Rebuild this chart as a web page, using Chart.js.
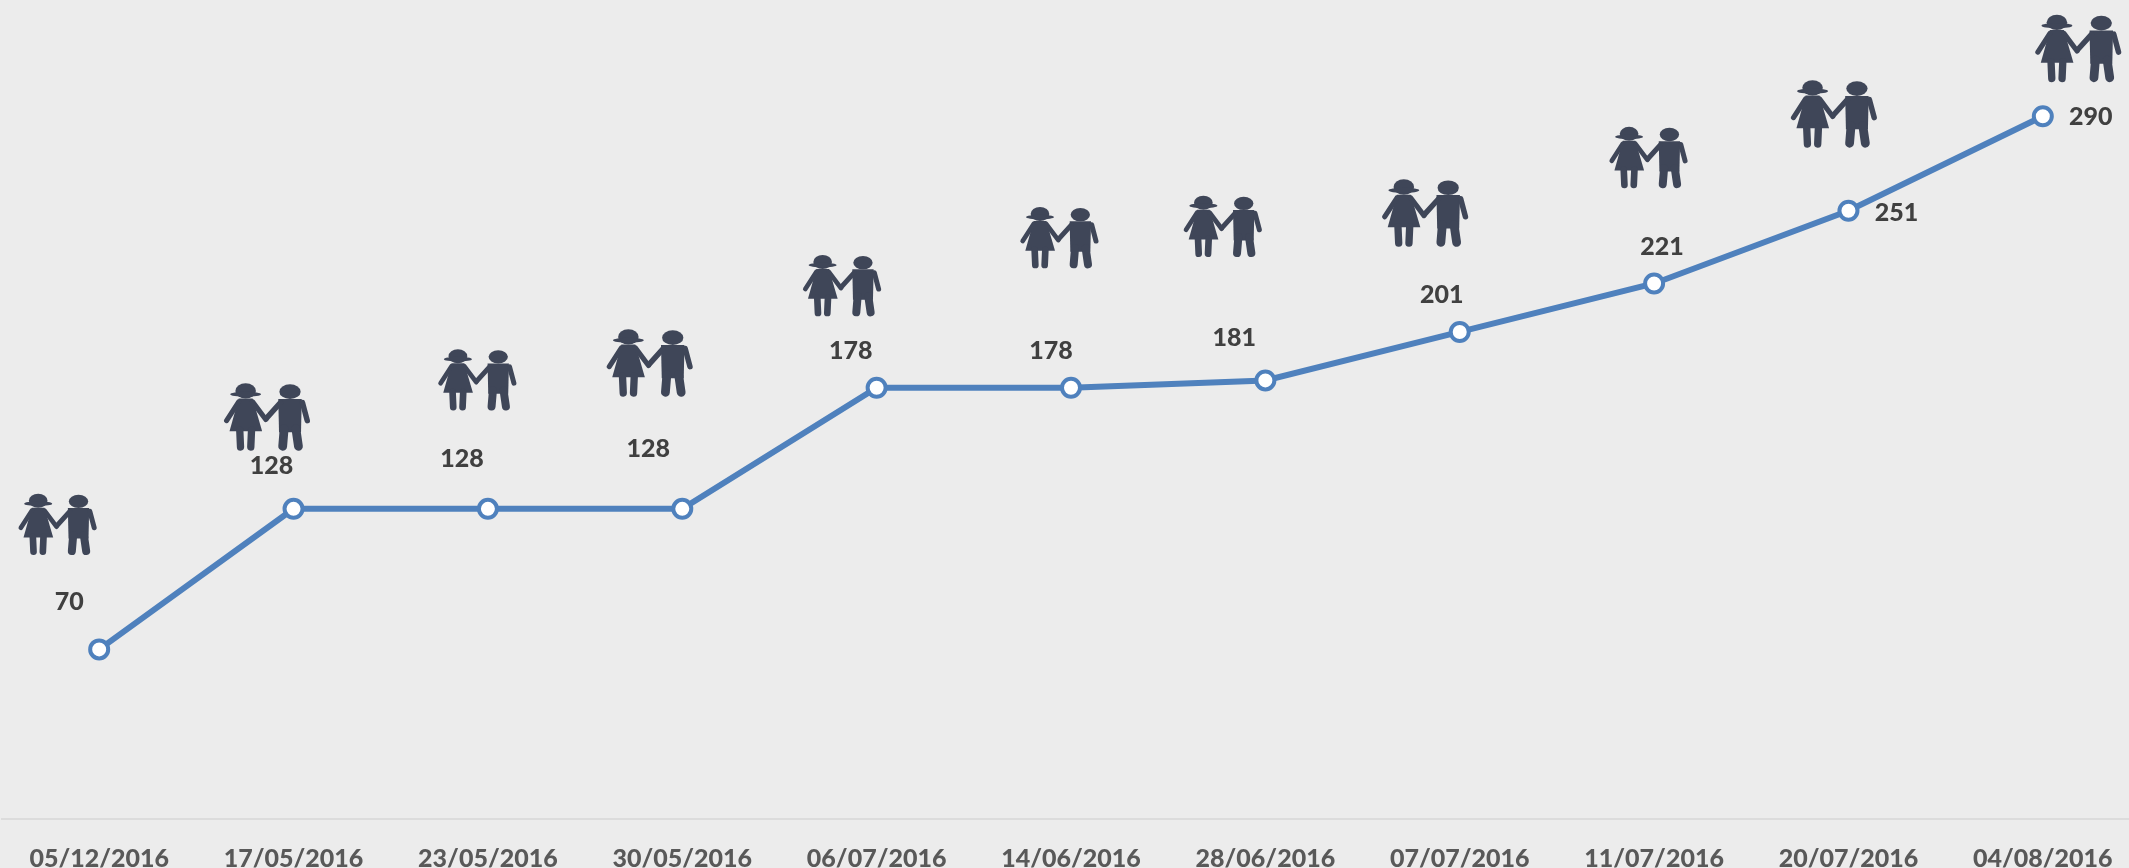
<!DOCTYPE html>
<html>
<head>
<meta charset="utf-8">
<title>Line chart</title>
<script src="https://cdn.jsdelivr.net/npm/chart.js@4/dist/chart.umd.min.js"></script>
<style>
  html, body { margin: 0; padding: 0; width: 2129px; height: 868px; overflow: hidden; background: #ececec; }
  canvas { display: block; }
</style>
</head>
<body>
<canvas id="chart" width="2141" height="868"></canvas>
<script>
// === Data ===
const dates = [
  "05/12/2016", "17/05/2016", "23/05/2016", "30/05/2016", "06/07/2016", "14/06/2016",
  "28/06/2016", "07/07/2016", "11/07/2016", "20/07/2016", "04/08/2016",
];
const values = [70, 128, 128, 128, 178, 178, 181, 201, 221, 251, 290];

// hand placed in the original, so kept as offsets from each point
const labelShift = [
  [-30, -47], [-22, -43], [-26, -50], [-34, -60], [-26, -37], [-20, -37],
  [-31, -42], [-18, -37], [8, -37], [48, 2], [48, 1],
];
const iconShift = [
  [-42, -156, 1], [-27, -126, 1.1], [-11, -160, 1], [-33, -180, 1.1], [-35, -133, 1], [-12, -181, 1],
  [-43, -185, 1], [-35, -153, 1.1], [-6, -157, 1], [-15, -131, 1.1], [35, -102, 1.1],
];

const ICON_COLOR = "#3f4658";
const LINE_COLOR = "#4f81bd";

// Girl and boy holding hands, drawn on a 237x187 grid
function drawCouple(ctx, cx, top, scale) {
  ctx.save();
  ctx.translate(cx, top);
  ctx.scale(scale / 3, scale / 3);
  ctx.translate(-118, 0);
  ctx.fillStyle = ICON_COLOR;
  ctx.strokeStyle = ICON_COLOR;
  ctx.lineCap = "round";
  ctx.lineJoin = "round";

  // girl: hair, flaps, dress
  ctx.beginPath();
  ctx.ellipse(61, 22, 28, 21, 0, 0, Math.PI * 2);
  ctx.fill();
  ctx.beginPath();
  ctx.ellipse(61, 31, 42, 7, 0, 0, Math.PI * 2);
  ctx.fill();
  ctx.beginPath();
  ctx.moveTo(42, 43);
  ctx.lineTo(80, 43);
  ctx.lineTo(106, 132);
  ctx.lineTo(17, 132);
  ctx.closePath();
  ctx.fill();

  // girl: arms and legs
  ctx.lineWidth = 14;
  ctx.beginPath();
  ctx.moveTo(42, 52);
  ctx.lineTo(9, 103);
  ctx.moveTo(80, 52);
  ctx.lineTo(116, 100);
  ctx.stroke();
  ctx.lineWidth = 20;
  ctx.beginPath();
  ctx.moveTo(45, 130);
  ctx.lineTo(47, 175);
  ctx.moveTo(77, 130);
  ctx.lineTo(75, 175);
  ctx.stroke();

  // boy: head and torso
  ctx.beginPath();
  ctx.ellipse(182, 24, 29, 20, 0, 0, Math.PI * 2);
  ctx.fill();
  ctx.beginPath();
  ctx.moveTo(150, 44);
  ctx.lineTo(214, 44);
  ctx.lineTo(212, 135);
  ctx.lineTo(152, 135);
  ctx.closePath();
  ctx.fill();

  // boy: arms and legs
  ctx.lineWidth = 15;
  ctx.beginPath();
  ctx.moveTo(156, 54);
  ctx.lineTo(118, 96);
  ctx.moveTo(216, 54);
  ctx.lineTo(229, 103);
  ctx.stroke();
  ctx.lineWidth = 24;
  ctx.beginPath();
  ctx.moveTo(166, 125);
  ctx.lineTo(162, 173);
  ctx.moveTo(198, 125);
  ctx.lineTo(205, 173);
  ctx.stroke();
  ctx.restore();
}

// Value labels and icons sit away from the points, so they get their own plugin
const annotations = {
  id: "annotations",
  afterDatasetsDraw(chart) {
    const { ctx } = chart;
    const points = chart.getDatasetMeta(0).data;
    points.forEach((point, i) => {
      const [ix, iy, scale] = iconShift[i];
      drawCouple(ctx, point.x + ix, point.y + iy, scale);

      const [lx, ly] = labelShift[i];
      ctx.save();
      ctx.fillStyle = "#404040";
      ctx.font = "900 25px Lato";
      ctx.textAlign = "center";
      ctx.textBaseline = "middle";
      ctx.fillText(String(values[i]), point.x + lx, point.y + ly);
      ctx.restore();
    });
  },
};

new Chart(document.getElementById("chart"), {
  type: "line",
  data: {
    labels: dates,
    datasets: [
      {
        data: values,
        borderColor: LINE_COLOR,
        borderWidth: 6,
        tension: 0,
        clip: false,
        pointRadius: 9,
        pointBorderWidth: 4,
        pointBorderColor: LINE_COLOR,
        pointBackgroundColor: "#ffffff",
      },
    ],
  },
  options: {
    responsive: false,
    animation: false,
    layout: { autoPadding: false, padding: { left: 2, right: 1 } },
    plugins: {
      legend: { display: false },
      tooltip: { enabled: false },
    },
    scales: {
      x: {
        offset: true,
        afterFit: (scale) => {
          scale.height = 49;
          scale.paddingLeft = 0;
          scale.paddingRight = 0;
        },
        grid: { display: false },
        border: { color: "#dcdcdc", width: 2 },
        ticks: {
          color: "#595959",
          padding: 17,
          maxRotation: 0,
          autoSkip: false,
          font: { family: "Lato", size: 25, weight: "900" },
        },
      },
      y: {
        display: false,
        min: 0,
        max: 338,
      },
    },
  },
  plugins: [annotations],
});
</script>
</body>
</html>
